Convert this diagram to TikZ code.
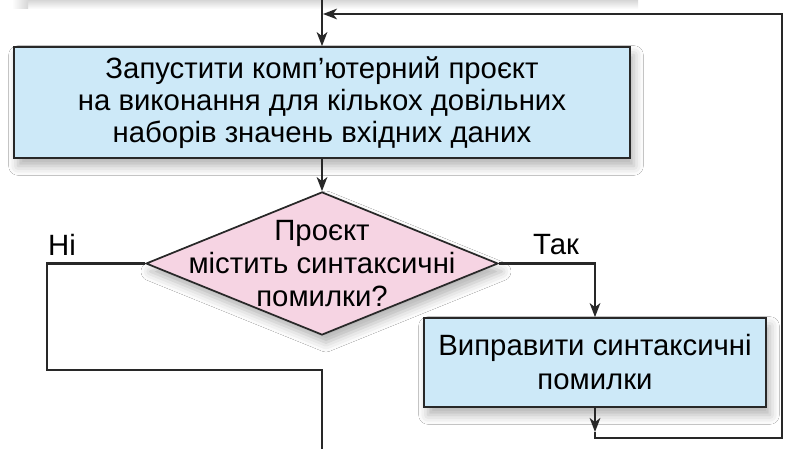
\documentclass[tikz,border=0pt]{standalone}
\usepackage{fontspec}
\setmainfont{Liberation Sans}
\usetikzlibrary{shapes.geometric,arrows.meta,shadows.blur}
\definecolor{boxblue}{RGB}{205,233,248}
\definecolor{dpink}{RGB}{246,212,227}
\definecolor{lin}{RGB}{40,40,40}
\begin{document}
\begin{tikzpicture}[x=0.75pt,y=-0.75pt,
 every node/.style={font=\fontsize{22pt}{24pt}\selectfont, text=black},
 conn/.style={draw=lin, line width=1.5pt},
 arr/.style={conn, -{Stealth[length=10.5pt,width=8pt,inset=3pt]}},
 shad/.style={blur shadow={shadow xshift=3pt, shadow yshift=-6pt, shadow blur radius=7pt, shadow opacity=30}},
 procbox/.style={rectangle, draw=lin, line width=1.3pt, fill=boxblue, inner sep=0, align=center, shad},
 decision/.style={diamond, draw=lin, line width=1.3pt, fill=dpink, inner sep=0, shad},
 lbl/.style={align=center, inner sep=0}
]
\useasboundingbox[fill=white] (0,0) rectangle (800,449);
% shadow of the box above (cut off by the top edge)
\shade[top color=black!16, bottom color=white] (28,0) rectangle (638,9);
\shade[left color=white, right color=black!16] (12,0) rectangle (28,9);
\coordinate (prev) at (322,-2);
\node[procbox, minimum width=462pt, minimum height=83.25pt] (b1) at (322,102.5)
  {Запустити комп’ютерний проєкт\\на виконання для кількох довільних\\наборів значень вхідних даних};
\node[decision, minimum width=264pt, minimum height=107.25pt] (d) at (322,263.5) {};
\node[lbl, font=\fontsize{22pt}{24.75pt}\selectfont] (dt) at (d.center) {Проєкт\\містить синтаксичні\\помилки?};
\node[procbox, minimum width=256.5pt, minimum height=66.75pt, font=\fontsize{22pt}{25.5pt}\selectfont] (b2) at (595,362.5)
  {Виправити синтаксичні\\помилки};
\node[lbl] (no) at (62,245) {Ні};
\node[lbl] (yes) at (556,245) {Так};
\coordinate (nL) at (47,263.5);
\coordinate (nB) at (47,370);
\coordinate (nC) at (322,370);
\coordinate (nEnd) at (322,460);
\coordinate (aT) at (595,432);
\coordinate (lpA) at (595,438);
\coordinate (lpB) at (782,438);
\coordinate (lpC) at (782,14);
\coordinate (lpD) at (323,14);
\draw[arr] (prev) -- (b1.north);
\draw[arr] (b1.south) -- (d.north);
\draw[conn] (d.west) -- (nL) -- (nB) -- (nC) -- (nEnd);
\draw[arr] (d.east) -| (b2.north);
\draw[arr] (b2.south) -- (aT);
\draw[arr] (aT) -- (lpA) -- (lpB) -- (lpC) -- (lpD);
\end{tikzpicture}
\end{document}
